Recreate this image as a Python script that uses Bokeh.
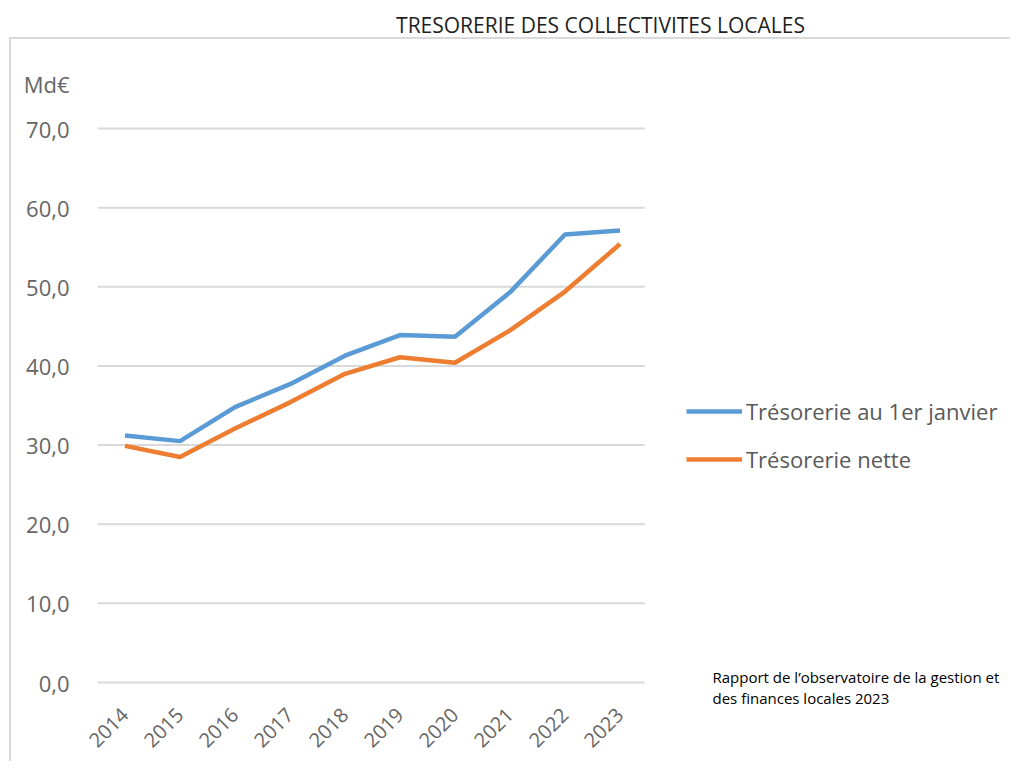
from bokeh.plotting import figure
from bokeh.models import Range1d, Label, Legend, LegendItem, FixedTicker, ColumnDataSource
from bokeh.embed import file_html
from bokeh.resources import INLINE
import math

years = ["2014", "2015", "2016", "2017", "2018", "2019", "2020", "2021", "2022", "2023"]
tresorerie_1er_janvier = [31.2, 30.5, 34.8, 37.7, 41.3, 43.9, 43.7, 49.3, 56.6, 57.1]
tresorerie_nette = [29.9, 28.5, 32.1, 35.4, 39.0, 41.1, 40.4, 44.5, 49.4, 55.4]
y_ticks = [0, 10, 20, 30, 40, 50, 60, 70]
y_tick_labels = ["0,0", "10,0", "20,0", "30,0", "40,0", "50,0", "60,0", "70,0"]
unit_label = "Md€"
title_text = "TRESORERIE DES COLLECTIVITES LOCALES"
source_lines = ["Rapport de l’observatoire de la gestion et", "des finances locales 2023"]
series_names = ["Trésorerie au 1er janvier", "Trésorerie nette"]

BLUE = "#5B9BD5"
ORANGE = "#ED7D31"
GRID = "#d9d9d9"
TICK = "#666666"
FONT = "Open Sans"

W, H = 1010, 761
FL, FB = 97, 708          # frame left / bottom on the page (frame spans to right & top edges)
UNIT_POS = 75.6           # axis position used for the unit label

xs = list(range(len(years)))
p = figure(width=W, height=H,
           x_range=Range1d(-0.5, -0.5 + (W - FL) / 55.0),
           y_range=Range1d(-(FB - 682) / 7.914, 682 / 7.914),
           output_backend="svg", toolbar_location=None,
           min_border_left=FL, min_border_right=0, min_border_top=0,
           min_border_bottom=H - FB)
p.outline_line_color = None
p.background_fill_color = None
p.border_fill_color = None
# thin grey chart border (top and left edges), drawn behind the transparent canvas
p.styles = {
    "background-color": "white",
    "background-image": "linear-gradient(#d9d9d9,#d9d9d9), linear-gradient(#d9d9d9,#d9d9d9)",
    "background-size": "2px 760px, 1020px 2px",
    "background-position": "9px 37px, 9px 37px",
    "background-repeat": "no-repeat",
}

p.xgrid.grid_line_color = None
p.ygrid.grid_line_color = None
# horizontal gridlines over the category span only
p.segment(x0=-0.5, x1=len(years) - 0.55, y0=y_ticks, y1=y_ticks,
          line_color=GRID, line_width=2)

src = ColumnDataSource(dict(x=xs, a=tresorerie_1er_janvier, b=tresorerie_nette))
r1 = p.line("x", "a", source=src, line_color=BLUE, line_width=4.5)
r2 = p.line("x", "b", source=src, line_color=ORANGE, line_width=4.5)

p.yaxis.ticker = FixedTicker(ticks=y_ticks + [UNIT_POS])
ov = {t: l for t, l in zip(y_ticks, y_tick_labels)}
ov[UNIT_POS] = unit_label
p.yaxis.major_label_overrides = ov
p.xaxis.ticker = FixedTicker(ticks=xs)
p.xaxis.major_label_overrides = {i: y for i, y in zip(xs, years)}
for ax in (p.xaxis, p.yaxis):
    ax.axis_line_color = None
    ax.major_tick_line_color = None
    ax.minor_tick_line_color = None
    ax.major_label_text_font = FONT
    ax.major_label_text_color = TICK
p.yaxis.major_label_text_font_size = "22px"
p.yaxis.major_label_standoff = 22
p.xaxis.major_label_text_font_size = "20px"
p.xaxis.major_label_orientation = math.pi / 4
p.xaxis.major_label_standoff = -3

# title
p.add_layout(Label(x=600 - FL, y=FB - 24, x_units="screen", y_units="screen",
                   text=title_text, text_font=FONT, text_font_size="21px",
                   text_color="#1f1f1f", text_align="center", text_baseline="alphabetic"))

# source note
for txt, base in zip(source_lines, [676, 697]):
    p.add_layout(Label(x=712 - FL, y=FB - base, x_units="screen", y_units="screen",
                       text=txt, text_font=FONT, text_font_size="15px",
                       text_color="#000000", text_baseline="alphabetic"))

legend = Legend(items=[LegendItem(label=series_names[0], renderers=[r1]),
                       LegendItem(label=series_names[1], renderers=[r2])],
                location=(686 - FL, FB - 474), orientation="vertical",
                glyph_width=56, glyph_height=30, label_height=30, spacing=18,
                padding=0, margin=0, label_standoff=4,
                label_text_font=FONT, label_text_font_size="22px",
                label_text_color="#595959",
                border_line_color=None, background_fill_alpha=0)
p.add_layout(legend)

open("out.html", "w").write(file_html(p, INLINE))
